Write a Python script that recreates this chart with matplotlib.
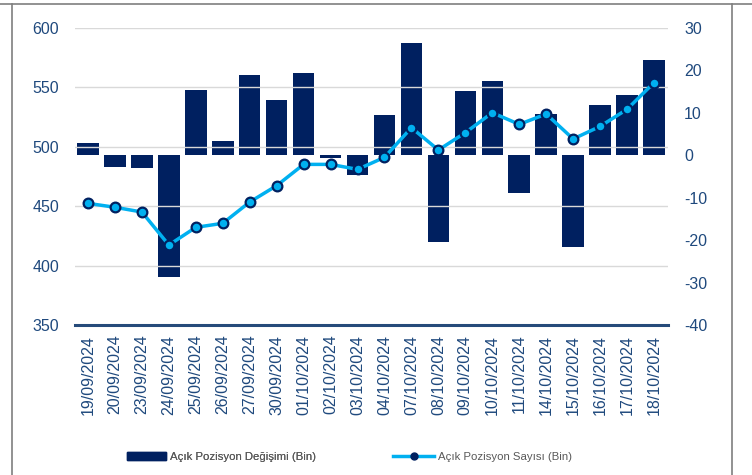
import matplotlib
matplotlib.use("Agg")
import matplotlib.pyplot as plt
from matplotlib.lines import Line2D
from matplotlib.patches import Patch

dates = ["19/09/2024", "20/09/2024", "23/09/2024", "24/09/2024", "25/09/2024",
         "26/09/2024", "27/09/2024", "30/09/2024", "01/10/2024", "02/10/2024",
         "03/10/2024", "04/10/2024", "07/10/2024", "08/10/2024", "09/10/2024",
         "10/10/2024", "11/10/2024", "14/10/2024", "15/10/2024", "16/10/2024",
         "17/10/2024", "18/10/2024"]
change = [3.0, -2.8, -3.1, -28.6, 15.4, 3.3, 18.9, 13.0, 19.4, -0.6,
          -4.7, 9.6, 26.4, -20.4, 15.1, 17.4, -9.0, 9.8, -21.5, 11.9,
          14.2, 22.5]
count = [452.4, 449.1, 445.1, 417.3, 432.2, 435.6, 453.5, 467.3, 485.2, 485.2,
         481.0, 491.1, 516.1, 497.3, 511.9, 528.7, 518.9, 527.6, 506.6, 517.2,
         531.6, 554.0]
left_ticks = [350, 400, 450, 500, 550, 600]
right_ticks = [-40, -30, -20, -10, 0, 10, 20, 30]
label_bar = "Açık Pozisyon Değişimi (Bin)"
label_line = "Açık Pozisyon Sayısı (Bin)"

plt.rcParams['font.family'] = ['Liberation Sans', 'DejaVu Sans']
plt.rcParams['axes.unicode_minus'] = False
NAVY = '#002060'
CYAN = '#00B0F0'
TXT = '#1F497D'
W, H = 752, 475

fig = plt.figure(figsize=(7.52, 4.75), dpi=100)
border = dict(color='#7f7f7f', lw=1.2, transform=fig.transFigure)
fig.add_artist(Line2D([0, 1], [1 - 4/H, 1 - 4/H], **border))
fig.add_artist(Line2D([11.5/W, 11.5/W], [0, 1 - 4/H], **border))
fig.add_artist(Line2D([731.5/W, 731.5/W], [0, 1 - 4/H], **border))

ax = fig.add_axes([74.5/W, 1 - 325/H, (667.5-74.5)/W, (325-28)/H])
ax2 = ax.twinx()

x = list(range(len(dates)))
# bars on the secondary (right) axis
ax2.bar(x, change, width=0.8, color=NAVY, zorder=2)
ax2.set_ylim(-40, 30)
ax2.set_yticks(right_ticks)

ax.set_ylim(350, 600)
ax.set_yticks(left_ticks)
ax.grid(axis='y', color='#d9d9d9', lw=1.0)
ax.set_axisbelow(True)
ax.set_xlim(-0.5, len(dates) - 0.5)
ax.set_xticks(x)
ax.set_xticklabels(dates, rotation=90, fontsize=11.5, color=TXT)

# line on primary axis, drawn above bars
ax.set_zorder(ax2.get_zorder() + 1)
ax.patch.set_visible(False)
ax2.patch.set_visible(True)
ax2.patch.set_facecolor('white')
ax.plot(x, count, color=CYAN, lw=2.5, marker='o', markersize=7,
        markerfacecolor=CYAN, markeredgecolor=NAVY, markeredgewidth=1.6, zorder=3)

for a in (ax, ax2):
    for s in a.spines.values():
        s.set_visible(False)
    a.tick_params(length=0, labelsize=11.5, labelcolor=TXT)
ax.tick_params(axis='y', pad=11)
ax2.tick_params(axis='y', pad=12)
ax.tick_params(axis='x', pad=7)
ax.spines['bottom'].set_visible(True)
ax.spines['bottom'].set_color('#264b7a')
ax.spines['bottom'].set_linewidth(2.2)

h_bar = Patch(facecolor=NAVY, edgecolor=NAVY)
h_line = Line2D([0], [0], color=CYAN, lw=2.5, marker='o', markersize=5,
                markerfacecolor=NAVY, markeredgecolor=NAVY)
common = dict(loc='center left', frameon=False, fontsize=8.2, labelcolor='#595959',
              borderpad=0, borderaxespad=0, handletextpad=0.35, handleheight=0.6)
leg1 = fig.legend([h_bar], [label_bar], bbox_to_anchor=(127/W, 1 - 457/H),
                  handlelength=3.4, **common)
fig.add_artist(leg1)
fig.legend([h_line], [label_line], bbox_to_anchor=(393/W, 1 - 457/H),
           handlelength=3.6, **common)

fig.savefig('out.png', dpi=100)
